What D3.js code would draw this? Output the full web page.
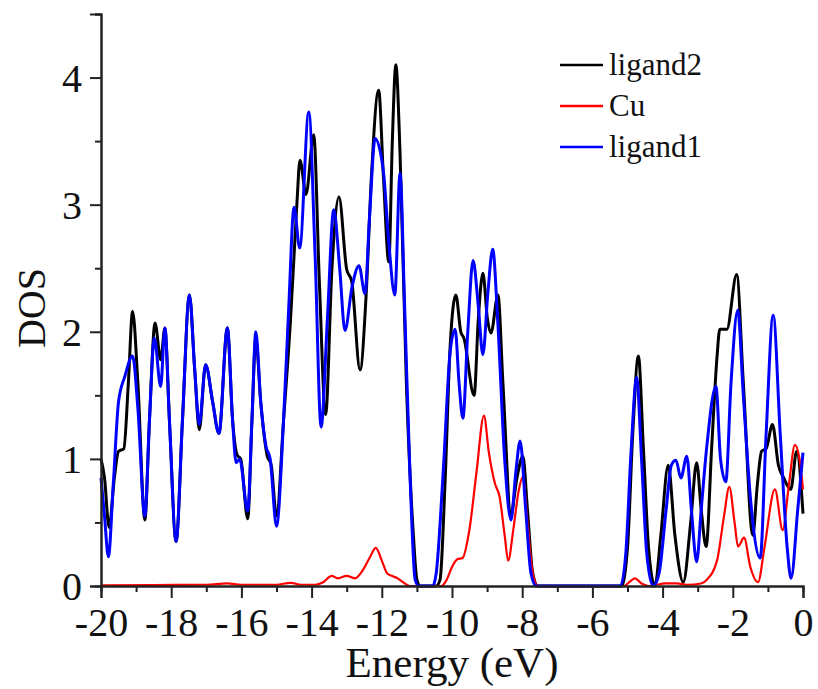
<!DOCTYPE html>
<html>
<head>
<meta charset="utf-8">
<script src="https://cdn.jsdelivr.net/npm/d3@7/dist/d3.min.js"></script>
<style>
  html, body { margin: 0; padding: 0; background: #fff; }
  svg { display: block; }
</style>
</head>
<body>
<svg id="chart" width="818" height="689"></svg>
<script>
// Projected density of states, energy in eV
const ligand2Energy = [-20.00,-19.90,-19.77,-19.62,-19.50,-19.35,-19.22,-19.10,-18.95,-18.75,-18.62,-18.46,-18.30,-18.18,-18.05,-17.86,-17.68,-17.48,-17.33,-17.20,-17.02,-16.82,-16.64,-16.40,-16.25,-16.12,-16.02,-15.82,-15.70,-15.59,-15.45,-15.27,-15.15,-15.00,-14.80,-14.60,-14.50,-14.42,-14.33,-14.16,-13.94,-13.78,-13.60,-13.42,-13.22,-13.00,-12.86,-12.62,-12.45,-12.30,-12.09,-11.95,-11.80,-11.70,-11.60,-11.48,-11.30,-11.10,-11.00,-10.90,-10.45,-10.34,-10.20,-10.05,-9.89,-9.75,-9.66,-9.37,-9.25,-9.12,-8.99,-8.89,-8.69,-8.55,-8.32,-8.15,-7.98,-7.85,-7.70,-7.55,-5.17,-5.00,-4.85,-4.69,-4.55,-4.40,-4.22,-4.05,-3.84,-3.65,-3.41,-3.20,-3.03,-2.90,-2.76,-2.60,-2.45,-2.37,-2.17,-1.89,-1.70,-1.43,-1.30,-1.18,-1.05,-0.87,-0.70,-0.55,-0.35,-0.18,0.00];
const ligand2DOS = [1.00,0.85,0.46,0.85,1.06,1.08,1.60,2.16,1.60,0.52,1.30,2.07,1.78,2.03,1.30,0.35,1.30,2.29,1.70,1.23,1.74,1.45,1.20,2.03,1.30,1.03,1.00,0.53,1.30,1.95,1.45,1.03,0.95,0.55,1.30,2.10,2.60,3.00,3.35,3.08,3.55,2.40,1.35,2.50,3.06,2.49,2.40,1.70,2.27,3.20,3.90,3.20,2.55,3.50,4.10,3.40,1.60,0.40,0.05,0.00,0.00,0.05,0.80,1.90,2.29,2.00,1.95,1.50,2.10,2.46,2.10,1.99,2.29,1.60,0.57,0.85,1.02,0.60,0.10,0.00,0.00,0.30,1.20,1.81,1.10,0.30,0.00,0.40,0.95,0.40,0.03,0.50,0.97,0.60,0.31,1.10,1.80,2.02,2.02,2.45,1.60,0.40,0.80,1.06,1.08,1.27,0.95,0.85,0.76,1.06,0.57];

const ligand1Energy = [-20.00,-19.90,-19.79,-19.65,-19.50,-19.32,-19.10,-18.95,-18.75,-18.62,-18.48,-18.30,-18.18,-18.05,-17.86,-17.68,-17.48,-17.33,-17.20,-17.02,-16.82,-16.64,-16.40,-16.25,-16.15,-16.05,-15.82,-15.70,-15.59,-15.45,-15.30,-15.18,-15.00,-14.80,-14.65,-14.50,-14.34,-14.08,-13.90,-13.73,-13.55,-13.37,-13.20,-13.05,-12.85,-12.65,-12.48,-12.35,-12.19,-11.95,-11.80,-11.63,-11.48,-11.35,-11.20,-11.05,-10.95,-10.55,-10.45,-10.25,-10.05,-9.91,-9.80,-9.69,-9.55,-9.40,-9.25,-9.12,-8.98,-8.84,-8.70,-8.50,-8.32,-8.18,-8.06,-7.90,-7.75,-7.60,-5.20,-5.05,-4.90,-4.74,-4.60,-4.45,-4.27,-4.10,-3.90,-3.75,-3.62,-3.48,-3.31,-3.18,-3.03,-2.90,-2.74,-2.48,-2.35,-2.20,-2.05,-1.86,-1.70,-1.50,-1.22,-1.05,-0.85,-0.65,-0.45,-0.34,-0.15,0.00];
const ligand1DOS = [0.85,0.55,0.23,0.80,1.45,1.65,1.81,1.40,0.55,1.30,1.95,1.57,2.03,1.30,0.35,1.30,2.29,1.70,1.27,1.74,1.45,1.20,2.03,1.30,0.97,1.00,0.59,1.30,2.00,1.45,1.10,1.00,0.47,1.30,2.20,2.98,2.66,3.73,2.60,1.25,2.10,2.96,2.50,2.01,2.35,2.52,2.30,2.90,3.52,3.25,2.70,2.29,3.25,2.20,0.90,0.05,0.00,0.00,0.10,0.90,1.85,2.02,1.60,1.32,2.00,2.56,2.20,1.82,2.30,2.65,2.10,1.00,0.52,0.90,1.14,0.60,0.10,0.00,0.00,0.25,1.05,1.64,1.00,0.25,0.00,0.10,0.60,0.95,0.99,0.85,1.02,0.60,0.19,0.60,1.10,1.57,1.00,0.82,1.60,2.17,1.50,0.70,0.22,1.20,2.13,1.20,0.30,0.06,0.60,1.05];

const cuEnergy = [-20.00,-18.50,-17.00,-16.40,-16.00,-15.00,-14.60,-14.30,-13.90,-13.67,-13.43,-13.25,-13.00,-12.77,-12.55,-12.35,-12.17,-12.00,-11.85,-11.72,-11.55,-11.40,-11.20,-10.30,-10.15,-10.00,-9.85,-9.70,-9.50,-9.30,-9.09,-8.95,-8.77,-8.65,-8.50,-8.40,-8.25,-8.10,-7.98,-7.85,-7.70,-7.55,-5.10,-4.95,-4.79,-4.60,-4.40,-3.90,-3.60,-3.30,-2.90,-2.74,-2.45,-2.25,-2.10,-1.95,-1.85,-1.68,-1.50,-1.28,-1.10,-0.80,-0.58,-0.40,-0.23,-0.10,0.00];
const cuDOS = [0.005,0.008,0.010,0.020,0.010,0.010,0.025,0.010,0.010,0.030,0.080,0.060,0.080,0.060,0.120,0.220,0.300,0.200,0.100,0.080,0.060,0.030,0.000,0.000,0.050,0.150,0.210,0.220,0.450,0.900,1.340,1.050,0.800,0.710,0.400,0.200,0.450,0.750,0.860,0.500,0.100,0.000,0.000,0.030,0.060,0.020,0.000,0.020,0.020,0.010,0.020,0.050,0.200,0.550,0.780,0.500,0.310,0.380,0.150,0.030,0.300,0.760,0.440,0.800,1.110,1.000,0.760];

const seriesNames = ["ligand2", "Cu", "ligand1"];
const seriesColors = ["#000000", "#ff0000", "#0000ff"];

const xTickValues = [-20, -18, -16, -14, -12, -10, -8, -6, -4, -2, 0];
const yTickValues = [0, 1, 2, 3, 4];

const serif = "\"Liberation Serif\"";

const svg = d3.select("#chart");
const plot = { left: 101, right: 803, top: 14, bottom: 586 };

const x = d3.scaleLinear().domain([-20, 0]).range([plot.left, plot.right]);
const y = d3.scaleLinear().domain([0, 4.5]).range([plot.bottom, plot.top]);

const zip = (es, vs) => es.map((e, i) => [e, vs[i]]);
const series = [
  { name: seriesNames[0], color: seriesColors[0], width: 3, data: zip(ligand2Energy, ligand2DOS) },
  { name: seriesNames[1], color: seriesColors[1], width: 2.2, data: zip(cuEnergy, cuDOS) },
  { name: seriesNames[2], color: seriesColors[2], width: 3, data: zip(ligand1Energy, ligand1DOS) }
];

const line = d3.line()
  .x(d => x(d[0]))
  .y(d => y(Math.max(0, d[1])))
  .curve(d3.curveMonotoneX);

// curves
const curves = svg.append("g");
series.forEach(s => {
  curves.append("path")
    .attr("d", line(s.data))
    .attr("fill", "none")
    .attr("stroke", s.color)
    .attr("stroke-width", s.width)
    .attr("stroke-linejoin", "round");
});

const fmt = v => String(v);

// x axis: major ticks every 2 eV, minor every 1 eV
const xAxisG = svg.append("g").attr("transform", `translate(0,${plot.bottom})`);
xAxisG.call(d3.axisBottom(x).tickValues(d3.range(-19, 0, 2)).tickSize(6).tickFormat(""));
xAxisG.call(g => g.append("g").call(d3.axisBottom(x).tickValues(xTickValues).tickSize(12).tickPadding(10).tickFormat(fmt)));

// y axis: major ticks every 1, minor every 0.5
const yAxisG = svg.append("g").attr("transform", `translate(${plot.left},0)`);
yAxisG.call(d3.axisLeft(y).tickValues([0.5, 1.5, 2.5, 3.5, 4.5]).tickSize(6).tickFormat(""));
yAxisG.call(g => g.append("g").call(d3.axisLeft(y).tickValues(yTickValues).tickSize(11).tickPadding(8).tickFormat(fmt)));

svg.selectAll(".domain").attr("stroke", "#222").attr("stroke-width", 2);
svg.selectAll(".tick line").attr("stroke", "#222").attr("stroke-width", 2);
svg.selectAll(".tick text")
  .style("font-family", serif)
  .style("font-size", "40px")
  .attr("fill", "#111");
xAxisG.selectAll(".tick text").attr("dy", "0.71em");
yAxisG.selectAll(".tick text").attr("dy", "0.34em");

// axis titles
svg.append("text")
  .attr("x", (plot.left + plot.right) / 2)
  .attr("y", 677)
  .attr("text-anchor", "middle")
  .attr("fill", "#111")
  .style("font-family", serif)
  .style("font-size", "43px")
  .text("Energy (eV)");

svg.append("text")
  .attr("transform", `translate(45,308) rotate(-90)`)
  .attr("text-anchor", "middle")
  .attr("fill", "#111")
  .style("font-family", serif)
  .style("font-size", "40px")
  .text("DOS");

// legend
const legend = svg.append("g").attr("transform", "translate(560,65)");
series.forEach((s, i) => {
  const row = legend.append("g").attr("transform", `translate(0,${i * 41})`);
  row.append("line")
    .attr("x1", 0).attr("x2", 43)
    .attr("y1", 0).attr("y2", 0)
    .attr("stroke", s.color).attr("stroke-width", 2.5);
  row.append("text")
    .attr("x", 49).attr("y", 0).attr("dy", "0.33em")
    .attr("fill", "#111")
    .style("font-family", serif)
    .style("font-size", "31px")
    .text(s.name);
});
</script>
</body>
</html>
